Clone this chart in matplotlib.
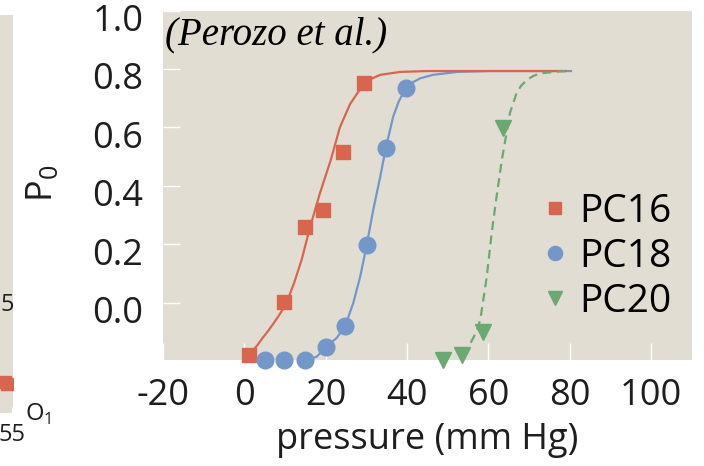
import matplotlib.pyplot as plt
from matplotlib.transforms import ScaledTranslation

plt.rcParams['font.family'] = ['Open Sans', 'DejaVu Sans']

pc16_x = [1.2, 9.8, 14.9, 19.4, 24.3, 29.4]
pc16_y = [-0.178, 0.003, 0.26, 0.318, 0.516, 0.752]
pc18_x = [5.1, 9.8, 14.9, 20.1, 24.8, 30.2, 34.8, 39.8]
pc18_y = [-0.195, -0.195, -0.195, -0.15, -0.079, 0.198, 0.53, 0.735]
pc20_x = [48.8, 53.5, 58.7, 63.6]
pc20_y = [-0.195, -0.178, -0.099, 0.598]

# fitted curves
pc16_fit_x = [1.9, 3.2, 4.5, 5.8, 7.2, 8.8, 10.4, 12.3, 14.1, 16.2, 18.6, 21.3,
              23.5, 26.0, 28.9, 31.0, 33.4, 38.3, 45.0, 55.0, 79.0]
pc16_fit_y = [-0.166, -0.145, -0.12, -0.097, -0.07, -0.037, 0.0, 0.07, 0.147, 0.26,
              0.375, 0.49, 0.60, 0.68, 0.74, 0.765, 0.78, 0.79, 0.793, 0.793, 0.793]
pc18_fit_x = [14.9, 17.8, 20.1, 22.7, 24.8, 26.8, 28.5, 30.1, 31.7, 33.4, 34.8,
              36.6, 38.0, 39.7, 41.5, 43.2, 46.4, 52.3, 60.0, 80.3]
pc18_fit_y = [-0.195, -0.184, -0.15, -0.12, -0.079, 0.0, 0.09, 0.198, 0.318, 0.43,
              0.53, 0.637, 0.69, 0.734, 0.755, 0.768, 0.78, 0.79, 0.793, 0.793]
pc20_fit_x = [53.5, 55.5, 57.0, 58.0, 59.6, 60.8, 62.0, 63.3, 64.3, 65.3, 66.9,
              68.0, 69.4, 71.0, 72.7, 76.8, 79.3]
pc20_fit_y = [-0.175, -0.14, -0.1, -0.058, 0.09, 0.238, 0.363, 0.489, 0.569, 0.65,
              0.717, 0.742, 0.762, 0.776, 0.785, 0.791, 0.793]

# left neighbour panel (only a sliver is visible)
side_x = [46.5, 48.8]
side_y = [0.078, 0.073]

x_ticks = [-20, 0, 20, 40, 60, 80, 100]
y_ticks = [0.0, 0.2, 0.4, 0.6, 0.8, 1.0]

red = '#d9654f'
blue = '#7497c9'
green = '#6aa972'
beige = '#e2ddd3'
ink = '#1e1e1e'

fig = plt.figure(figsize=(7.04, 4.66), dpi=100)

# sliver of the neighbouring panel
ax0 = fig.add_axes([0, 53 / 466, 13 / 704, 398 / 466])
ax0.set_facecolor(beige)
for s in ax0.spines.values():
    s.set_visible(False)
ax0.set_xlim(40, 56)
ax0.set_ylim(0, 1)
ax0.plot(side_x, side_y, 's', color=red, ms=9)
ax0.set_xticks([55])
ax0.set_xticklabels(['55'])
ax0.set_yticks([])
ax0.tick_params(axis='x', direction='in', length=4, color='white',
                labelsize=17, labelcolor=ink, pad=7)
fig.text(1 / 704, 1 - 305 / 466, '5', fontsize=17, color=ink, ha='left', va='center')
fig.text(25 / 704, 1 - 414 / 466, r'O$_\mathregular{1}$', fontsize=17, color=ink,
         ha='left', va='center')

# main panel
ax = fig.add_axes([162.8 / 704, 106 / 466, 529.1 / 704, 349.5 / 466])
ax.set_facecolor(beige)
for s in ax.spines.values():
    s.set_visible(False)

ax.plot(pc18_fit_x, pc18_fit_y, '-', color=blue, lw=1.6, zorder=2)
ax.plot(pc16_fit_x, pc16_fit_y, '-', color=red, lw=1.6, zorder=2)
ax.plot(pc20_fit_x, pc20_fit_y, color=green, lw=1.6, ls=(0, (4, 2.5)), zorder=2)

ax.plot(pc16_x, pc16_y, 's', color=red, ms=9.5, label='PC16', clip_on=False, zorder=3)
ax.plot(pc18_x, pc18_y, 'o', color=blue, ms=12, label='PC18', clip_on=False, zorder=3)
ax.plot(pc20_x, pc20_y, 'v', color=green, ms=11.5, label='PC20', clip_on=False, zorder=3)

ax.set_xlim(-20, 110)
ax.set_ylim(-0.195, 1.0)
ax.set_xticks(x_ticks)
ax.set_xticklabels([str(v) for v in x_ticks])
ax.set_yticks(y_ticks)
ax.set_yticklabels(['%.1f' % v for v in y_ticks])
ax.tick_params(direction='in', length=12, width=1, color='white',
               labelsize=26, labelcolor=ink)
ax.tick_params(axis='x', pad=13)
ax.tick_params(axis='y', pad=14)
shift = ScaledTranslation(0, -7 / 100, fig.dpi_scale_trans)
for lab in ax.get_yticklabels():
    lab.set_transform(lab.get_transform() + shift)

ax.set_xlabel('pressure (mm Hg)', fontsize=26, color=ink, labelpad=6)
fig.text(43 / 704, 1 - 183 / 466, r'P$_\mathregular{0}$', fontsize=26, color=ink,
         rotation=90, ha='center', va='center')

ax.text(0.005, 0.93, '(Perozo et al.)', transform=ax.transAxes, fontsize=28,
        family='Liberation Serif', style='italic', color='black', va='center')

ax.legend(loc='center left', bbox_to_anchor=(0.72, 0.295), frameon=False,
          fontsize=28, handlelength=0.6, handletextpad=0.3, labelspacing=0.18,
          borderpad=0, borderaxespad=0, markerscale=0.85)

fig.savefig('out.png', dpi=100)
